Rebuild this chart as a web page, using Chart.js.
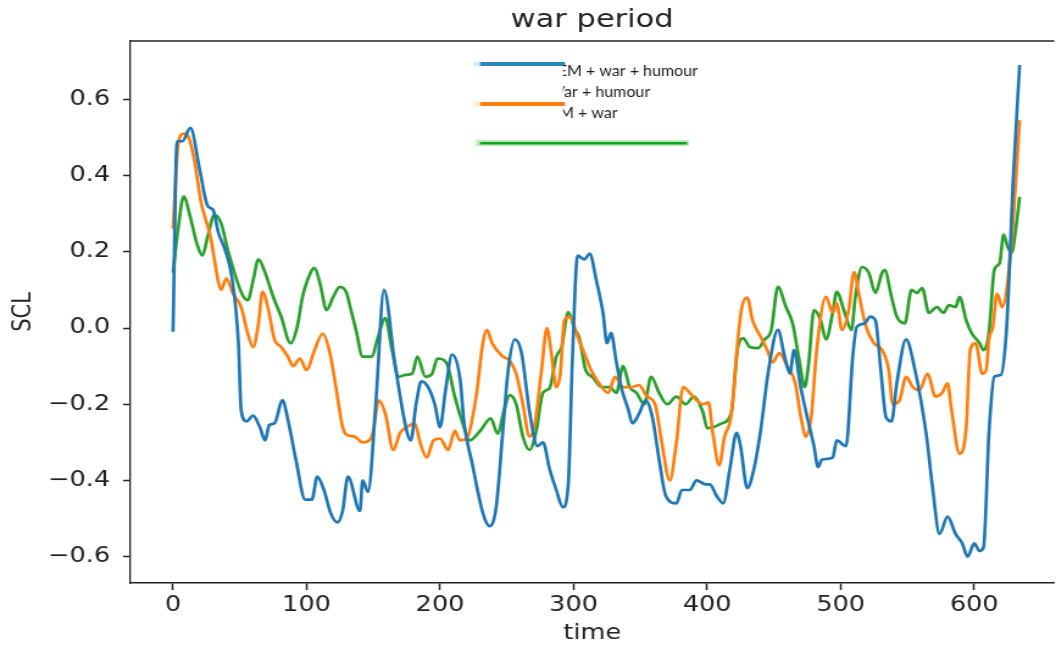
<!DOCTYPE html>
<html>
<head>
<meta charset="utf-8">
<title>war period</title>
<script src="https://cdn.jsdelivr.net/npm/chart.js@4.4.1/dist/chart.umd.min.js"></script>
<style>
  html, body { margin: 0; padding: 0; background: #fff; overflow: hidden; }
  /* figure is drawn narrow and widened to 1056px */
  #wrap { width: 866px; height: 648px; position: relative; transform: scaleX(1.2194); transform-origin: 0 0; }
</style>
</head>
<body>
<div id="wrap"><canvas id="sclChart"></canvas></div>
<script>
// SCL over time, three model variants
const seriesLabels = ['SEM + war + humour', 'War + humour', 'SEM + war'];
const seriesColors = ['#1f77b4', '#ff7f0e', '#2ca02c'];

const blueTime = [0, 3, 7, 13, 20, 26, 30, 34, 39, 44, 49, 51, 55, 60, 65, 69, 72, 76, 82, 86, 92, 99, 104, 108, 113, 118, 123, 127, 131, 140, 142, 146, 152, 158, 166, 175, 178, 182, 186, 191, 196, 200, 204, 209, 215, 218, 224, 232, 237, 242, 247, 251, 256, 261, 267, 273, 277, 282, 287, 292, 296, 299, 303, 308, 312, 317, 322, 325, 328, 332, 336, 341, 344, 349, 354, 359, 364, 369, 377, 381, 387, 392, 399, 402, 407, 412, 417, 422, 425, 430, 435, 440, 446, 453, 458, 462, 465, 470, 476, 480, 483, 486, 494, 497, 504, 509, 512, 518, 522, 526, 530, 534, 538, 542, 549, 555, 564, 569, 574, 580, 586, 591, 595, 600, 604, 607, 611, 615, 620, 624, 626, 629, 634];
const blueScl = [-0.01, 0.49, 0.49, 0.525, 0.415, 0.32, 0.31, 0.25, 0.205, 0.135, -0.04, -0.215, -0.245, -0.23, -0.26, -0.295, -0.255, -0.25, -0.19, -0.24, -0.345, -0.45, -0.45, -0.39, -0.425, -0.485, -0.51, -0.48, -0.39, -0.48, -0.4, -0.43, -0.19, 0.1, -0.09, -0.27, -0.295, -0.2, -0.14, -0.155, -0.2, -0.26, -0.165, -0.07, -0.135, -0.25, -0.355, -0.485, -0.52, -0.47, -0.27, -0.11, -0.03, -0.066, -0.22, -0.31, -0.3, -0.37, -0.425, -0.47, -0.41, -0.09, 0.19, 0.18, 0.195, 0.125, 0.04, -0.04, -0.013, -0.09, -0.16, -0.215, -0.25, -0.225, -0.19, -0.235, -0.345, -0.44, -0.46, -0.425, -0.425, -0.4, -0.41, -0.41, -0.44, -0.46, -0.37, -0.275, -0.31, -0.42, -0.37, -0.27, -0.11, -0.005, -0.075, -0.12, -0.058, -0.155, -0.25, -0.31, -0.365, -0.345, -0.34, -0.295, -0.31, -0.075, 0.003, 0.012, 0.03, 0.02, -0.11, -0.235, -0.245, -0.145, -0.03, -0.1, -0.277, -0.425, -0.54, -0.495, -0.54, -0.565, -0.6, -0.565, -0.585, -0.575, -0.277, -0.128, -0.123, -0.013, 0.126, 0.38, 0.69];

const orangeTime = [0, 4, 8, 11, 16, 21, 28, 34, 36, 40, 45, 51, 56, 60, 64, 67, 71, 76, 81, 86, 90, 95, 100, 106, 112, 117, 122, 127, 130, 136, 142, 147, 150, 154, 159, 165, 170, 175, 181, 185, 190, 195, 200, 206, 211, 215, 220, 227, 232, 235, 239, 247, 252, 257, 262, 267, 271, 276, 280, 283, 287, 290, 293, 297, 303, 309, 313, 319, 326, 331, 337, 343, 349, 355, 361, 366, 372, 377, 382, 387, 392, 397, 401, 404, 409, 413, 418, 423, 426, 430, 434, 440, 445, 449, 454, 460, 466, 470, 474, 478, 482, 489, 494, 497, 501, 506, 510, 514, 519, 525, 531, 536, 539, 544, 549, 554, 559, 565, 571, 576, 580, 583, 589, 594, 597, 601, 606, 609, 611, 614, 617, 621, 627, 631, 634];
const orangeScl = [0.26, 0.485, 0.51, 0.505, 0.44, 0.33, 0.24, 0.12, 0.1, 0.13, 0.09, 0.055, -0.015, -0.05, 0.012, 0.095, 0.055, -0.03, -0.05, -0.075, -0.1, -0.08, -0.11, -0.058, -0.015, -0.058, -0.155, -0.26, -0.28, -0.285, -0.3, -0.295, -0.27, -0.19, -0.225, -0.32, -0.275, -0.26, -0.25, -0.3, -0.34, -0.295, -0.29, -0.32, -0.27, -0.295, -0.29, -0.18, -0.04, -0.005, -0.04, -0.075, -0.085, -0.12, -0.2, -0.285, -0.25, -0.11, 0.0, -0.058, -0.155, -0.12, 0.02, 0.03, -0.023, -0.075, -0.11, -0.145, -0.17, -0.128, -0.155, -0.155, -0.15, -0.18, -0.2, -0.3, -0.4, -0.3, -0.155, -0.17, -0.19, -0.2, -0.195, -0.27, -0.36, -0.285, -0.23, -0.03, 0.055, 0.08, 0.02, -0.023, -0.058, -0.09, -0.066, -0.1, -0.145, -0.23, -0.285, -0.23, -0.058, 0.082, 0.04, 0.065, -0.005, 0.047, 0.147, 0.082, 0.003, -0.04, -0.058, -0.11, -0.2, -0.19, -0.128, -0.155, -0.163, -0.12, -0.18, -0.17, -0.145, -0.215, -0.33, -0.26, -0.058, -0.04, -0.12, -0.11, -0.03, 0.003, 0.09, 0.055, 0.187, 0.38, 0.545];

const greenTime = [0, 4, 8, 13, 18, 22, 26, 31, 36, 41, 46, 52, 56, 60, 64, 69, 75, 81, 88, 93, 97, 103, 106, 110, 115, 120, 125, 130, 132, 137, 142, 149, 153, 159, 164, 169, 174, 179, 183, 189, 194, 198, 205, 211, 217, 222, 230, 238, 243, 248, 252, 257, 262, 267, 272, 277, 282, 287, 291, 296, 301, 304, 309, 314, 321, 327, 332, 337, 342, 347, 353, 358, 364, 370, 377, 384, 390, 397, 400, 405, 411, 418, 423, 427, 432, 438, 443, 448, 453, 459, 464, 469, 473, 476, 480, 485, 489, 494, 497, 503, 508, 511, 516, 521, 526, 531, 533, 538, 542, 548, 553, 557, 561, 566, 572, 577, 581, 586, 589, 594, 598, 604, 607, 611, 615, 619, 622, 625, 628, 631, 634];
const greenScl = [0.145, 0.265, 0.345, 0.29, 0.22, 0.19, 0.24, 0.297, 0.275, 0.205, 0.145, 0.087, 0.073, 0.125, 0.18, 0.145, 0.082, 0.03, -0.04, 0.003, 0.082, 0.145, 0.157, 0.118, 0.047, 0.082, 0.108, 0.092, 0.065, -0.005, -0.075, -0.075, -0.03, 0.026, -0.058, -0.128, -0.123, -0.12, -0.075, -0.128, -0.12, -0.08, -0.093, -0.18, -0.25, -0.295, -0.27, -0.237, -0.277, -0.215, -0.176, -0.2, -0.285, -0.32, -0.27, -0.17, -0.158, -0.075, -0.05, 0.042, -0.005, -0.023, -0.11, -0.128, -0.155, -0.155, -0.17, -0.1, -0.155, -0.17, -0.2, -0.128, -0.17, -0.2, -0.18, -0.2, -0.18, -0.223, -0.263, -0.26, -0.25, -0.223, -0.05, -0.027, -0.05, -0.053, -0.03, -0.005, 0.108, 0.055, 0.012, -0.085, -0.155, -0.093, 0.047, 0.02, -0.03, 0.04, 0.095, 0.04, -0.005, 0.082, 0.16, 0.145, 0.092, 0.145, 0.152, 0.082, 0.03, 0.012, 0.1, 0.092, 0.105, 0.04, 0.055, 0.04, 0.06, 0.055, 0.082, 0.02, -0.013, -0.04, -0.058, -0.013, 0.152, 0.17, 0.245, 0.213, 0.197, 0.257, 0.344];

const xTicks = [0, 100, 200, 300, 400, 500, 600];
const yTicks = [-0.6, -0.4, -0.2, 0.0, 0.2, 0.4, 0.6];

// horizontal widening applied by the #wrap transform
const STRETCH = 1056 / 866;

function toPoints(times, values) {
    return times.map((t, i) => ({ x: t, y: values[i] }));
}

function fmtTick(v) {
    const s = Math.abs(v).toFixed(1);
    return v < -1e-9 ? '\u2212' + s : s;
}

// top edge of the axes box
const frameTop = {
    id: 'frameTop',
    afterDraw(chart) {
        const { ctx, chartArea } = chart;
        ctx.save();
        ctx.strokeStyle = '#222';
        ctx.lineWidth = 1.5;
        ctx.beginPath();
        ctx.moveTo(chartArea.left, chartArea.top);
        ctx.lineTo(chartArea.right, chartArea.top);
        ctx.stroke();
        ctx.restore();
    }
};

// legend block, text clipped on its left side; drawn in page pixels
const clippedLegend = {
    id: 'clippedLegend',
    afterDraw(chart) {
        const ctx = chart.ctx;
        ctx.save();
        ctx.scale(1 / STRETCH, 1);
        ctx.fillStyle = 'rgba(31,119,180,0.15)';
        ctx.fillRect(473, 62, 7, 4);
        ctx.fillStyle = '#2a84c0';
        ctx.fillRect(480, 62, 85, 4);
        ctx.fillStyle = 'rgba(255,127,14,0.15)';
        ctx.fillRect(473, 102, 7, 4);
        ctx.fillStyle = '#ff7f0e';
        ctx.fillRect(480, 102, 85, 4);
        ctx.fillStyle = 'rgba(44,180,44,0.3)';
        ctx.fillRect(476, 140, 213, 6);
        ctx.fillStyle = '#11a51d';
        ctx.fillRect(480, 142, 207, 2.5);

        ctx.beginPath();
        ctx.rect(563, 60, 200, 70);
        ctx.clip();
        ctx.fillStyle = '#1a1a1a';
        ctx.font = '16px Lato';
        ctx.textBaseline = 'middle';
        const starts = [567, 565, 559];
        const prefixes = ['SE', 'W', 'SE'];
        const rows = [71, 91.5, 112.5];
        seriesLabels.forEach((lab, i) => {
            const off = ctx.measureText(prefixes[i]).width;
            ctx.fillText(lab, starts[i] - off, rows[i]);
        });
        ctx.restore();
    }
};

const datasets = [
    [blueTime, blueScl],
    [orangeTime, orangeScl],
    [greenTime, greenScl]
].map(([t, v], i) => ({
    label: seriesLabels[i],
    data: toPoints(t, v),
    borderColor: seriesColors[i],
    borderWidth: 2.7,
    pointRadius: 0,
    cubicInterpolationMode: 'monotone',
    fill: false
}));

const tickFont = { family: 'DejaVu Sans', size: 21 };

new Chart(document.getElementById('sclChart'), {
    type: 'line',
    data: { datasets: datasets },
    options: {
        responsive: true,
        maintainAspectRatio: false,
        animation: false,
        devicePixelRatio: 1,
        layout: { padding: 0 },
        plugins: {
            legend: { display: false },
            tooltip: { enabled: false },
            title: {
                display: true,
                text: 'war period',
                fullSize: false,
                color: '#222',
                font: { family: 'DejaVu Sans', size: 25, weight: 'normal' },
                padding: { top: 5, bottom: 6 }
            }
        },
        scales: {
            x: {
                type: 'linear',
                min: -32.2,
                max: 660,
                afterFit(scale) { scale.height = 65; },
                afterBuildTicks(scale) { scale.ticks = xTicks.map(v => ({ value: v })); },
                grid: { drawOnChartArea: false, drawTicks: true, tickLength: 7, color: '#222', tickWidth: 1.5 },
                border: { display: true, color: '#222', width: 1.5 },
                ticks: { color: '#222', font: tickFont, padding: 3, maxRotation: 0, callback: v => String(v) },
                title: { display: true, text: 'time', color: '#222', font: tickFont, padding: { top: 0, bottom: 2 } }
            },
            y: {
                type: 'linear',
                min: -0.669,
                max: 0.753,
                afterFit(scale) { scale.width = 130 / STRETCH; },
                afterBuildTicks(scale) { scale.ticks = yTicks.map(v => ({ value: v })); },
                grid: { drawOnChartArea: false, drawTicks: true, tickLength: 5.7, color: '#222', tickWidth: 1.5 },
                border: { display: true, color: '#222', width: 1.3 },
                ticks: { color: '#222', font: tickFont, padding: 10.5, callback: v => fmtTick(v) },
                title: { display: true, text: 'SCL', color: '#222', font: tickFont, padding: { top: 7, bottom: 0 } }
            }
        }
    },
    plugins: [frameTop, clippedLegend]
});
</script>
</body>
</html>
